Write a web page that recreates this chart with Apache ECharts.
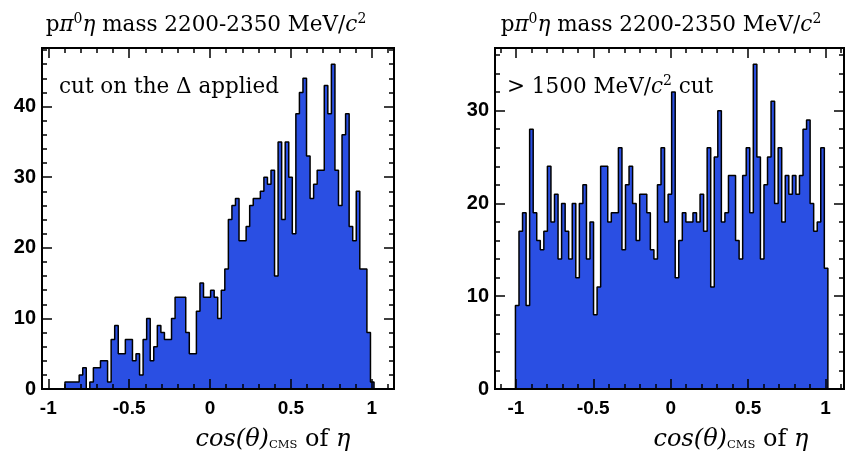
<!DOCTYPE html>
<html><head><meta charset="utf-8">
<script src="https://cdn.jsdelivr.net/npm/echarts@6/dist/echarts.min.js"></script>
<style>html,body{margin:0;padding:0;background:#fff}#c{width:845px;height:457px}</style>
</head><body><div id="c"></div>
<script>
// ---- data ----
const leftCounts = [1,1,1,1,2,3,0,1,3,3, 4,4,1,7,9,5,5,7,7,4, 5,2,7,10,4,6,9,8,7,7,
  10,13,13,13,8,5,5,11,15,13, 13,14,13,10,14,17, 24,26,27,21,21,23,26,27,27,28,
  30,29,31,16,35,24,35,30,22,39, 42,44,33,27,29,31,31,43,39,46, 31,26,36,39,23,21,28,17,17,8, 1];
const rightCounts = [9,17,19,9,28,19,16,15,17,24, 18,21,14,20,17,14,20,12,20,22,
  14,18,8,11,24,24,18,19,19,26, 15,22,24,20,16,21,21,19,15,14,
  22,26,18,21,32,12,16,19,18,18, 19,18,21,17,26,11,25,30,18,19,
  23,23,16,14,23,26,19,35,25,14, 22,25,31,20,26,18,23,21,23,21,
  23,28,29,20,17,18,26,13];
const leftBinStart = -0.897, leftBinWidth = 0.02197;
const rightBinStart = -1.003, rightBinWidth = 0.02293;
const xMajorTicks = [-1, -0.5, 0, 0.5, 1];
const xMinorTicks = [-1.1,-0.9,-0.8,-0.7,-0.6,-0.4,-0.3,-0.2,-0.1,0.1,0.2,0.3,0.4,0.6,0.7,0.8,0.9,1.1];
const leftYMajor = [0,10,20,30,40];
const leftYMinor = [2,4,6,8,12,14,16,18,22,24,26,28,32,34,36,38,42,44,46,48];
const rightYMajor = [0,10,20,30];
const rightYMinor = [2,4,6,8,12,14,16,18,22,24,26,28,32,34,36];

const panels = [
  {grid:{left:42, top:48, width:352, height:341}, xMin:-1.039, xMax:1.138, yMax:48.3,
   counts:leftCounts, start:leftBinStart, width:leftBinWidth, yMajor:leftYMajor, yMinor:leftYMinor},
  {grid:{left:495, top:48, width:349, height:341}, xMin:-1.135, xMax:1.119, yMax:36.75,
   counts:rightCounts, start:rightBinStart, width:rightBinWidth, yMajor:rightYMajor, yMinor:rightYMinor}
];

function stepData(start, width, counts) {
  const d = [[start, 0]];
  counts.forEach((c, i) => d.push([start + i * width, c]));
  const end = start + counts.length * width;
  d.push([end, counts[counts.length - 1]]);
  d.push([end, 0]);
  return d;
}

const BLACK = '#000';
const grids = [], xAxes = [], yAxes = [], series = [];
panels.forEach((p, gi) => {
  grids.push(p.grid);
  const inR = v => v > p.xMin && v < p.xMax;
  const mk = (pos, vals, len, labels) => ({
    type:'value', gridIndex:gi, min:p.xMin, max:p.xMax, position:pos, z:10,
    axisLine:{show:true, onZero:false, lineStyle:{color:BLACK, width:2}},
    axisTick:{show:true, inside:true, length:len, customValues:vals.filter(inR), lineStyle:{color:BLACK, width:1.5}},
    axisLabel:{show:labels, customValues:xMajorTicks, color:BLACK, fontFamily:'Liberation Sans', fontWeight:'bold', fontSize:19, margin:10},
    splitLine:{show:false}
  });
  const xBase = xAxes.length;
  xAxes.push(mk('bottom', xMajorTicks, 10, true), mk('bottom', xMinorTicks, 5, false),
             mk('top', xMajorTicks, 10, false), mk('top', xMinorTicks, 5, false));
  const mky = (pos, vals, len, labels) => ({
    type:'value', gridIndex:gi, min:0, max:p.yMax, position:pos, z:10,
    axisLine:{show:true, onZero:false, lineStyle:{color:BLACK, width:2}},
    axisTick:{show:true, inside:true, length:len, customValues:vals, lineStyle:{color:BLACK, width:1.5}},
    axisLabel:{show:labels, customValues:p.yMajor, color:BLACK, fontFamily:'Liberation Sans', fontWeight:'bold', fontSize:20, margin:6},
    splitLine:{show:false}
  });
  const yBase = yAxes.length;
  yAxes.push(mky('left', p.yMajor, 10, true), mky('left', p.yMinor, 5, false),
             mky('right', p.yMajor, 10, false), mky('right', p.yMinor, 5, false));
  series.push({
    type:'line', xAxisIndex:xBase, yAxisIndex:yBase, step:'end', symbol:'none', showSymbol:false,
    data: stepData(p.start, p.width, p.counts),
    lineStyle:{color:BLACK, width:1.5}, areaStyle:{color:'#2a4fe3', opacity:1},
    animation:false, silent:true, z:2
  });
});

const serif = 'DejaVu Serif';
const rich = {
  r:{fontFamily:serif, fontSize:21.5, color:BLACK},
  i:{fontFamily:serif, fontSize:21.5, fontStyle:'italic', color:BLACK},
  sup:{fontFamily:serif, fontSize:14, color:BLACK, padding:[0,0,12,0]},
  a:{fontFamily:serif, fontSize:21.5, color:BLACK},
  ai:{fontFamily:serif, fontSize:21.5, fontStyle:'italic', color:BLACK},
  xi:{fontFamily:serif, fontSize:24, fontStyle:'italic', color:BLACK},
  xr:{fontFamily:serif, fontSize:24, color:BLACK},
  xs:{fontFamily:serif, fontSize:11.5, color:BLACK, padding:[11,0,0,0]}
};
const titleText = '{r|p}{i|π}{sup|0}{i|η}{r| mass 2200-2350 MeV/}{i|c}{sup|2}';
const xName = '{xi|cos(θ)}{xs|CMS}{xr| of }{xi|η}';
function txt(x, y, text, align) {
  return {type:'text', x:x, y:y, z:100, style:{text:text, rich:rich, textAlign:align||'center', textVerticalAlign:'middle', fill:BLACK}};
}
const graphics = [
  txt(206, 25, titleText), txt(661, 25, titleText),
  txt(273, 440, xName), txt(731, 440, xName),
  txt(59, 87, '{a|cut on the Δ applied}', 'left'),
  txt(507, 87, '{a|> 1500 MeV/}{ai|c}{sup|2}{a| cut}', 'left')
];

const chart = echarts.init(document.getElementById('c'), null, {renderer:'canvas'});
chart.setOption({
  animation:false, backgroundColor:'#fff',
  grid:grids, xAxis:xAxes, yAxis:yAxes, series:series, graphic:graphics
});
</script></body></html>
